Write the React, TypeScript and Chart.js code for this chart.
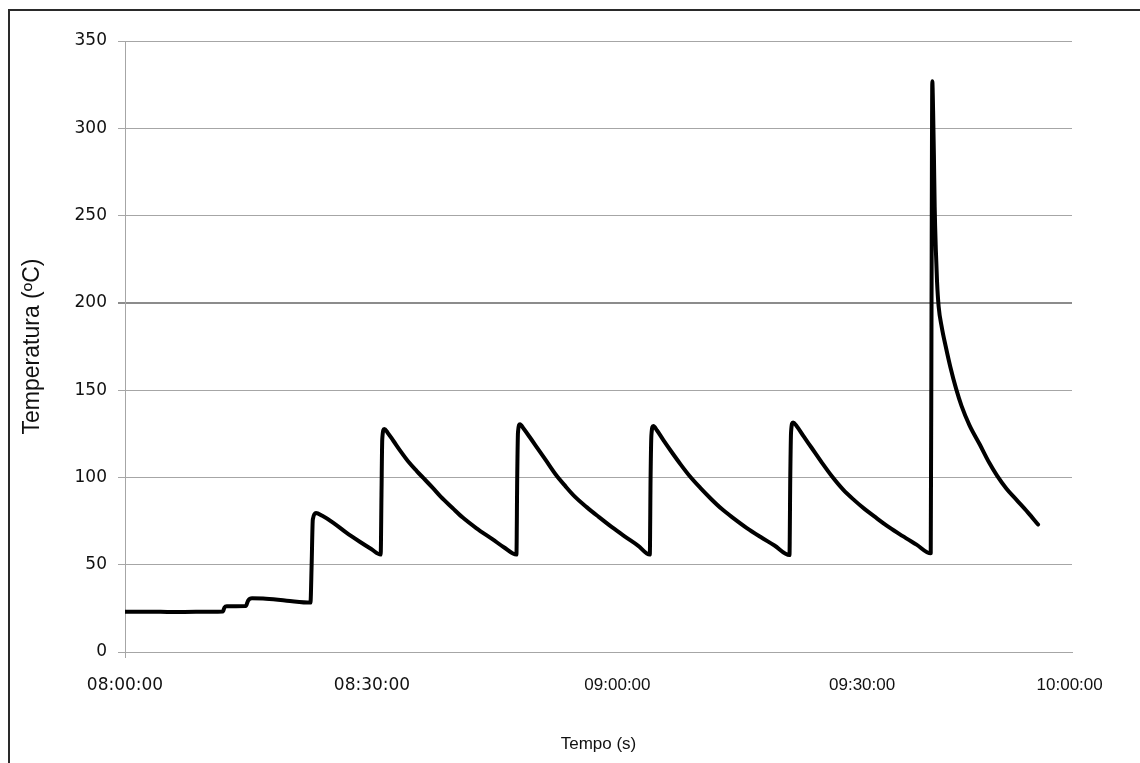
import React, { useEffect, useRef } from "react";
import { Chart, registerables } from "chart.js";

Chart.register(...registerables);

// Elapsed minutes along the axis (08:00:00 = 0)
const TIME_MIN = [
  0, 3, 6, 9, 12.4, 12.6, 12.9, 15.3, 15.6, 16.1, 17.5, 20.5, 23.5,
  23.65, 23.8, 24.2, 25.0, 26.4, 28.0, 29.8, 31.2, 32.4,
  32.5, 32.6, 32.85, 33.3, 34.0, 35.0, 36.0, 37.0, 37.8, 39.0, 40.0, 41.5, 42.8, 44.5, 46.6, 48.0, 49.6,
  49.7, 49.8, 50.05, 50.5, 51.3, 52.3, 53.3, 54.6, 55.8, 57.0, 58.5, 60.0, 61.7, 63.4, 65.0, 66.5,
  66.6, 66.7, 66.95, 67.4, 68.2, 69.2, 70.4, 71.6, 72.9, 74.3, 75.6, 77.0, 78.8, 80.5, 82.3, 84.2,
  84.3, 84.4, 84.65, 85.1, 86.0, 87.0, 88.3, 89.6, 91.0, 92.4, 93.7, 95.0, 96.8, 98.5, 100.3, 102.1,
  102.2, 102.3, 102.4, 102.5, 102.6, 102.75, 102.9, 103.1, 103.5, 104.0, 104.6, 105.3, 106.0, 107.0,
  108.3, 109.5, 110.5, 111.7, 113.0, 114.4, 115.7,
];

// Temperature (ºC)
const TEMP_C = [
  23, 23.1, 22.9, 23, 23.2, 25.5, 26.2, 26.3, 29.5, 30.8, 30.6, 29.4, 28.3,
  50, 76, 79.6, 78, 74, 68.5, 63, 59, 55.8,
  90, 122, 127.8, 125.5, 121, 114.5, 108.5, 103.5, 99.7, 94, 89, 82.5, 77, 71, 64.5, 60, 55.8,
  100, 126, 130.5, 128, 123, 116.5, 110, 101.5, 95, 89, 83, 77.5, 71.5, 66, 61, 55.8,
  100, 124, 129.5, 127, 121.5, 115, 107.5, 100.5, 94, 87.5, 82, 77, 71, 66, 61, 55.5,
  100, 126, 131.5, 129.5, 123.5, 117, 108.5, 100.5, 93, 87, 82, 77.5, 71.5, 66.5, 61.5, 56.5,
  200, 327, 310, 285, 255, 230, 212, 198, 186, 175, 163, 151, 141, 130,
  119, 108.5, 101, 93.5, 87, 80, 73,
];

const X_TICK_POS = [0, 31.3, 62.4, 93.4, 119.7];
const X_TICK_LABELS = ["08:00:00", "08:30:00", "09:00:00", "09:30:00", "10:00:00"];
const Y_TICKS = [0, 50, 100, 150, 200, 250, 300, 350];

export default function App() {
  const canvasRef = useRef<HTMLCanvasElement | null>(null);

  useEffect(() => {
    document.documentElement.style.overflow = "hidden";
    document.body.style.overflow = "hidden";
    const canvas = canvasRef.current;
    if (!canvas) return;
    const points = TIME_MIN.map((t, i) => ({ x: t, y: TEMP_C[i] }));
    const chart = new Chart(canvas, {
      type: "line",
      data: {
        datasets: [
          {
            data: points,
            borderColor: "#000000",
            borderWidth: 4,
            pointRadius: 0,
            cubicInterpolationMode: "monotone",
            borderCapStyle: "round",
            borderJoinStyle: "round",
          },
        ],
      },
      options: {
        responsive: false,
        animation: false,
        layout: { padding: { top: 41, right: 68, bottom: 0, left: 0 } },
        plugins: { legend: { display: false }, tooltip: { enabled: false } },
        scales: {
          x: {
            type: "linear",
            min: 0,
            max: 120,
            afterFit: (s: any) => {
              s.height = 111;
            },
            afterBuildTicks: (s: any) => {
              s.ticks = X_TICK_POS.map((v) => ({ value: v }));
            },
            border: { display: true, color: "#a6a6a6", width: 1 },
            grid: {
              drawOnChartArea: false,
              tickLength: 6,
              color: (ctx: any) => (ctx.index === 0 ? "#a6a6a6" : "rgba(0,0,0,0)"),
            },
            ticks: {
              autoSkip: false,
              maxRotation: 0,
              padding: 17,
              color: "#111111",
              font: (ctx: any) =>
                ctx.index < 2
                  ? { family: "'DejaVu Sans', sans-serif", size: 17 }
                  : { family: "'Liberation Sans', Arial, sans-serif", size: 17 },
              callback: (_v: any, i: number) => X_TICK_LABELS[i],
            },
            title: {
              display: true,
              text: "Tempo (s)",
              color: "#111111",
              font: { family: "'Liberation Sans', Arial, sans-serif", size: 17 },
              padding: { top: 0, bottom: 8 },
            },
          },
          y: {
            min: 0,
            max: 350,
            afterFit: (s: any) => {
              s.width = 125;
            },
            afterBuildTicks: (s: any) => {
              s.ticks = Y_TICKS.map((v) => ({ value: v }));
            },
            border: { display: true, color: "#a6a6a6", width: 1 },
            grid: {
              tickLength: 7,
              color: (ctx: any) => (ctx.tick && ctx.tick.value === 200 ? "#8c8c8c" : "#a6a6a6"),
              lineWidth: (ctx: any) => (ctx.tick && ctx.tick.value === 200 ? 2 : 1),
            },
            ticks: {
              padding: 11,
              color: "#111111",
              font: { family: "'DejaVu Sans', sans-serif", size: 17 },
            },
            title: {
              display: true,
              text: "Temperatura (ºC)",
              color: "#111111",
              font: { family: "'Liberation Sans', Arial, sans-serif", size: 23 },
              padding: { top: 19, bottom: 0 },
            },
          },
        },
      },
    });
    return () => chart.destroy();
  }, []);

  return (
    <div style={{ position: "absolute", left: 0, top: 0, width: 1140, height: 763, overflow: "hidden", background: "#fff" }}>
      <div
        style={{
          position: "absolute",
          left: 8,
          top: 9,
          width: 1200,
          height: 800,
          border: "2px solid #2a2a2a",
          boxSizing: "border-box",
        }}
      />
      <canvas ref={canvasRef} width={1140} height={763} style={{ position: "absolute", left: 0, top: 0 }} />
    </div>
  );
}
